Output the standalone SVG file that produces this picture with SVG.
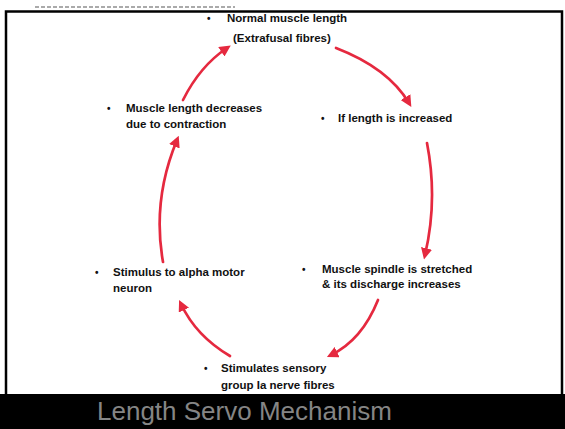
<svg xmlns="http://www.w3.org/2000/svg" width="565" height="429" viewBox="0 0 565 429">
<defs>
<style>
.t{font-family:"Liberation Sans",Arial,sans-serif;font-weight:bold;font-size:11.5px;fill:#111}
.b{font-family:"Liberation Sans",Arial,sans-serif;font-weight:bold;font-size:10px;fill:#111}
.a{fill:none;stroke:#e5293f;stroke-width:2.7;stroke-linecap:round;marker-end:url(#h)}
</style>
<marker id="h" viewBox="0 0 10 10" refX="6" refY="5" markerWidth="4.2" markerHeight="4.2" orient="auto" markerUnits="strokeWidth">
<path d="M0,0 L10,5 L0,10 z" fill="#e5293f"/>
</marker>
</defs>
<rect x="0" y="0" width="565" height="429" fill="#fff"/>
<line x1="35" y1="7" x2="235" y2="7" stroke="#aaa" stroke-width="2" stroke-dasharray="4 2"/>
<path d="M6,394 V11.5 H562 V394" fill="none" stroke="#000" stroke-width="2.5"/>
<rect x="0" y="394" width="565" height="35" fill="#000"/>
<text x="97" y="420" font-family="Liberation Sans,Arial,sans-serif" font-size="26" fill="#858585">Length Servo Mechanism</text>
<g id="connectors">
<path class="a" d="M183,100 Q200,66 227,48"/>
<path class="a" d="M336,48 Q388,68 409,103"/>
<path class="a" d="M427,143 Q438,200 425,255"/>
<path class="a" d="M378,300 Q362,340 331,355"/>
<path class="a" d="M230,356 Q196,336 181,304"/>
<path class="a" d="M163,262 Q152,200 177,140"/>
</g>
<g id="n1"><text class="b" x="207" y="22">•</text><text class="t" x="227" y="22">Normal muscle length</text><text class="t" x="233" y="42">(Extrafusal fibres)</text></g>
<g id="n2"><text class="b" x="321" y="122">•</text><text class="t" x="338" y="122">If length is increased</text></g>
<g id="n3"><text class="b" x="302" y="273">•</text><text class="t" x="322" y="273">Muscle spindle is stretched</text><text class="t" x="322" y="288">&amp; its discharge increases</text></g>
<g id="n4"><text class="b" x="204" y="372">•</text><text class="t" x="221" y="372">Stimulates sensory</text><text class="t" x="221" y="389">group Ia nerve fibres</text></g>
<g id="n5"><text class="b" x="95" y="276">•</text><text class="t" x="113" y="276">Stimulus to alpha motor</text><text class="t" x="113" y="292">neuron</text></g>
<g id="n6"><text class="b" x="107" y="112">•</text><text class="t" x="126" y="112">Muscle length decreases</text><text class="t" x="126" y="128">due to contraction</text></g>
</svg>
